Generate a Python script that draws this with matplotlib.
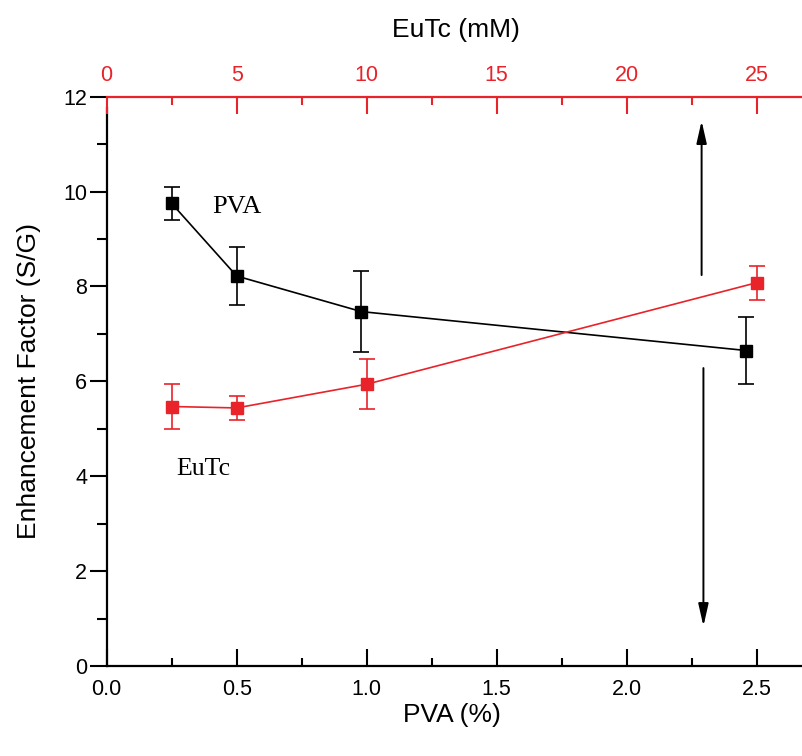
import matplotlib
matplotlib.use("Agg")
import matplotlib.pyplot as plt
from matplotlib.ticker import MultipleLocator

# PVA series: enhancement factor vs PVA concentration (%)
pva_x = [0.25, 0.5, 0.98, 2.46]
pva_y = [9.75, 8.22, 7.47, 6.65]
pva_err = [0.35, 0.62, 0.86, 0.70]

# EuTc series: enhancement factor vs EuTc concentration (mM)
eutc_x = [2.5, 5.0, 10.0, 25.0]
eutc_y = [5.47, 5.44, 5.94, 8.08]
eutc_err = [0.47, 0.25, 0.53, 0.36]

bottom_ticks = [0.0, 0.5, 1.0, 1.5, 2.0, 2.5]
top_ticks = [0, 5, 10, 15, 20, 25]
y_ticks = [0, 2, 4, 6, 8, 10, 12]

RED = "#E8232A"
SANS = ["Liberation Sans", "DejaVu Sans"]
SERIF = ["Liberation Serif", "DejaVu Serif"]

plt.rcParams["font.family"] = SANS

fig = plt.figure(figsize=(8.02, 7.56), dpi=100)
ax = fig.add_axes([0.1330, 0.1190, 0.8754, 0.7531])
ax.set_xlim(0, 2.7)
ax.set_ylim(0, 12)

ax.errorbar(pva_x, pva_y, yerr=pva_err, color="black", marker="s",
            markersize=8, lw=1.2, elinewidth=1.2, capsize=5.5, capthick=1.2,
            zorder=3)

ax.set_xticks(bottom_ticks)
ax.set_xticklabels([f"{t:.1f}" for t in bottom_ticks])
ax.set_yticks(y_ticks)
ax.xaxis.set_minor_locator(MultipleLocator(0.25))
ax.yaxis.set_minor_locator(MultipleLocator(1))
ax.tick_params(axis="x", which="both", direction="in", labelsize=15.5,
               pad=9, width=1.5)
ax.tick_params(axis="x", which="major", length=12)
ax.tick_params(axis="x", which="minor", length=6)
ax.tick_params(axis="y", which="both", direction="out", labelsize=15.5,
               pad=2, width=1.5, right=True)
ax.tick_params(axis="y", which="major", length=12)
ax.tick_params(axis="y", which="minor", length=7)
for side in ("left", "bottom", "right"):
    ax.spines[side].set_linewidth(1.6)
ax.spines["left"].set_bounds(0, 11.76)
ax.spines["top"].set_visible(False)

ax.set_xlabel("PVA (%)", fontsize=19, va="center")
ax.xaxis.set_label_coords(0.492, -0.086)
ax.set_ylabel("Enhancement Factor (S/G)", fontsize=19, va="center")
ax.yaxis.set_label_coords(-0.110, 0.5)

# Top axis in EuTc concentration
ax2 = ax.twiny()
ax2.set_xlim(0, 27)
ax2.errorbar(eutc_x, eutc_y, yerr=eutc_err, color=RED, marker="s",
             markersize=8, lw=1.2, elinewidth=1.2, capsize=5.5, capthick=1.2,
             zorder=3)
ax2.set_xticks(top_ticks)
ax2.xaxis.set_minor_locator(MultipleLocator(2.5))
ax2.tick_params(axis="x", which="both", direction="in", colors=RED,
                labelsize=15.5, pad=8, width=1.5)
ax2.tick_params(axis="x", which="major", length=12)
ax2.tick_params(axis="x", which="minor", length=6)
ax2.spines["top"].set_color(RED)
ax2.spines["top"].set_linewidth(1.6)
for side in ("left", "bottom", "right"):
    ax2.spines[side].set_visible(False)
ax2.set_xlabel("EuTc (mM)", fontsize=19, va="center")
ax2.xaxis.set_label_coords(0.497, 1.117)

# Series labels
ax.text(0.405, 9.68, "PVA", family=SERIF, fontsize=19, va="center", ha="left")
ax.text(0.267, 4.15, "EuTc", family=SERIF, fontsize=18.5, va="center", ha="left")

# Arrows pointing each series to its axis
head = "-|>,head_length=0.75,head_width=0.17"
ax.annotate("", xy=(2.288, 11.49), xytext=(2.288, 8.24),
            arrowprops=dict(arrowstyle=head, color="black", lw=1.4,
                            mutation_scale=18, shrinkA=0, shrinkB=0))
ax.annotate("", xy=(2.295, 0.84), xytext=(2.295, 6.28),
            arrowprops=dict(arrowstyle=head, color="black", lw=1.4,
                            mutation_scale=18, shrinkA=0, shrinkB=0))

fig.savefig("out.png", dpi=100)
